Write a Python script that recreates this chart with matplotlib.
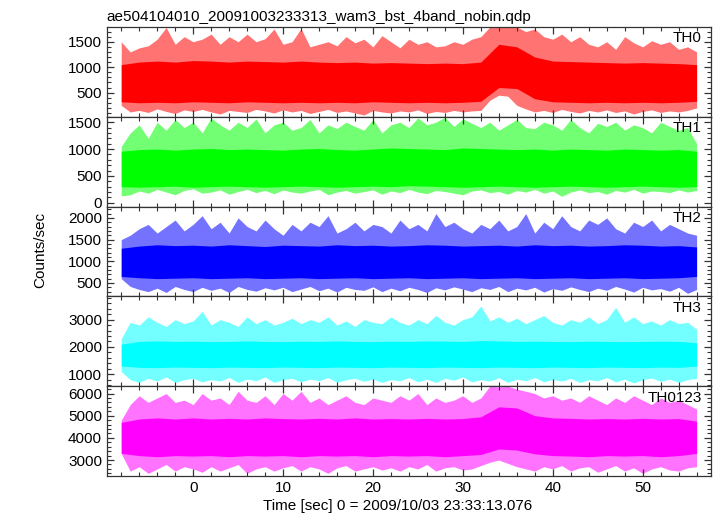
import numpy as np
import matplotlib
matplotlib.use("Agg")
import matplotlib.pyplot as plt
from matplotlib.ticker import MultipleLocator, FixedLocator

plt.rcParams["font.family"] = ["Liberation Sans", "DejaVu Sans"]
plt.rcParams["font.size"] = 11

# time grids (sec): spike envelope read every 1 s, dense core every 2 s
t_sec = np.arange(-8, 57, 1)
t_core = np.arange(-8, 57, 2)

# ---- TH0 ----
th0_hi = [1500, 1300, 1380, 1420, 1550, 1780, 1450, 1600, 1500, 1550,
          1650, 1450, 1600, 1500, 1650, 1500, 1560, 1750, 1450, 1500,
          1760, 1400, 1450, 1500, 1420, 1600, 1480, 1550, 1400, 1620,
          1500, 1380, 1550, 1450, 1500, 1400, 1420, 1500, 1450, 1550,
          1600, 1790, 1790, 1790, 1790, 1700, 1750, 1600, 1550, 1650,
          1500, 1600, 1450, 1400, 1500, 1350, 1600, 1480, 1400, 1520,
          1450, 1500, 1350, 1400, 1300]
th0_lo = [250, 120, 150, 110, 180, 130, 90, 160, 130, 170,
          120, 80, 150, 130, 110, 170, 140, 100, 160, 120,
          150, 90, 130, 170, 110, 140, 100, 60, 150, 120,
          100, 140, 120, 160, 90, 130, 110, 150, 120, 140,
          150, 350, 450, 430, 250, 180, 120, 150, 110, 170,
          130, 100, 150, 120, 160, 110, 140, 80, 130, 160,
          110, 140, 120, 150, 200]
th0_core_hi = [1050, 1100, 1120, 1100, 1130, 1120, 1100, 1120, 1110, 1100,
               1120, 1100, 1090, 1100, 1080, 1090, 1080, 1070, 1080, 1070,
               1100, 1450, 1400, 1200, 1120, 1110, 1100, 1090, 1080, 1090,
               1080, 1070, 1050]
th0_core_lo = [320, 300, 310, 300, 320, 310, 300, 320, 310, 300,
               310, 300, 310, 300, 320, 310, 300, 310, 300, 310,
               330, 600, 580, 380, 320, 310, 300, 310, 300, 310,
               300, 310, 330]

# ---- TH1 ----
th1_hi = [1050, 1300, 1450, 1200, 1500, 1350, 1550, 1400, 1500, 1300,
          1580, 1450, 1350, 1500, 1400, 1560, 1300, 1450, 1500, 1350,
          1400, 1550, 1300, 1450, 1380, 1500, 1420, 1350, 1550, 1300,
          1450, 1500, 1400, 1580, 1450, 1500, 1590, 1420, 1560, 1480,
          1400, 1500, 1350, 1450, 1550, 1400, 1380, 1500, 1450, 1350,
          1550, 1400, 1300, 1480, 1420, 1500, 1350, 1450, 1400, 1300,
          1500, 1420, 1350, 1400, 1100]
th1_lo = [130, 150, 220, 180, 250, 200, 150, 230, 260, 180,
          200, 240, 160, 210, 250, 190, 230, 170, 240, 200,
          180, 220, 250, 150, 200, 230, 180, 210, 240, 160,
          220, 190, 250, 200, 170, 230, 210, 180, 150, 220,
          240, 190, 210, 160, 230, 200, 250, 180, 220, 120,
          200, 240, 190, 210, 160, 230, 200, 250, 180, 220,
          210, 190, 240, 200, 230]
th1_core_hi = [960, 990, 1000, 980, 1000, 1010, 990, 1000, 990, 980,
               1000, 1010, 990, 980, 1000, 1020, 1010, 1000, 990, 1020,
               1010, 1000, 990, 1000, 980, 1000, 990, 980, 1000, 990,
               980, 990, 960]
th1_core_lo = [300, 290, 300, 310, 290, 300, 310, 300, 290, 300,
               310, 300, 290, 300, 310, 300, 320, 310, 300, 290,
               300, 310, 300, 290, 300, 310, 300, 290, 300, 310,
               300, 290, 300]

# ---- TH2 ----
th2_hi = [1500, 1600, 1750, 1850, 1650, 1800, 1950, 1700, 1850, 2050,
          1750, 1900, 1650, 2000, 1800, 1700, 1950, 1750, 1600, 1850,
          1700, 1900, 1800, 2050, 1650, 1750, 1900, 1700, 1850, 1800,
          1650, 1950, 1750, 1850, 1700, 2100, 1800, 1900, 1750, 1650,
          1850, 1750, 1950, 1700, 1800, 2100, 1650, 1900, 1750, 2050,
          1800, 1700, 1950, 1850, 2000, 1750, 1650, 1900, 1800, 1950,
          1700, 1850, 1750, 1650, 1600]
th2_lo = [600, 420, 350, 300, 380, 280, 420, 350, 300, 400,
          330, 380, 280, 420, 350, 310, 390, 340, 400, 300,
          360, 420, 320, 380, 290, 400, 350, 330, 410, 300,
          380, 320, 400, 350, 280, 390, 340, 410, 360, 300,
          390, 350, 420, 300, 380, 340, 400, 290, 370, 330,
          410, 350, 300, 380, 330, 420, 360, 290, 400, 340,
          370, 310, 400, 260, 350]
th2_core_hi = [1300, 1350, 1380, 1360, 1370, 1350, 1380, 1360, 1340, 1370,
               1360, 1350, 1380, 1360, 1370, 1350, 1360, 1380, 1370, 1350,
               1360, 1370, 1350, 1380, 1360, 1370, 1350, 1360, 1380, 1370,
               1350, 1360, 1330]
th2_core_lo = [650, 620, 600, 610, 620, 600, 610, 620, 600, 610,
               620, 600, 610, 620, 600, 610, 620, 600, 610, 620,
               600, 610, 620, 600, 610, 620, 600, 610, 620, 600,
               610, 620, 650]

# ---- TH3 ----
th3_hi = [2300, 2900, 2800, 3100, 2900, 2750, 3000, 2850, 2950, 3300,
          2800, 3000, 2900, 2750, 3100, 2850, 3000, 2800, 2900, 3050,
          2850, 3000, 2900, 3100, 2800, 2950, 2750, 3000, 2900, 2850,
          3100, 2900, 2800, 3000, 2850, 3150, 2900, 2800, 3000, 3100,
          3500, 2950, 3100, 2900, 3050, 2850, 3000, 3150, 2900, 2800,
          3000, 2900, 3100, 2850, 3000, 3450, 2900, 3100, 2850, 2950,
          2800, 3000, 2850, 2900, 2650]
th3_lo = [1100, 800, 700, 850, 750, 900, 700, 800, 850, 720,
          800, 750, 880, 700, 820, 760, 900, 700, 800, 850,
          720, 820, 760, 880, 700, 800, 850, 740, 820, 700,
          800, 760, 880, 720, 820, 700, 850, 780, 900, 720,
          800, 750, 870, 700, 820, 760, 880, 720, 810, 750,
          850, 700, 800, 760, 880, 720, 820, 680, 800, 860,
          740, 820, 700, 800, 850]
th3_core_hi = [2100, 2200, 2220, 2200, 2210, 2190, 2200, 2220, 2200, 2190,
               2210, 2200, 2220, 2200, 2190, 2210, 2200, 2220, 2210, 2200,
               2230, 2220, 2200, 2210, 2200, 2190, 2210, 2200, 2190, 2200,
               2210, 2200, 2150]
th3_core_lo = [1300, 1250, 1240, 1260, 1250, 1240, 1260, 1250, 1240, 1260,
               1250, 1240, 1260, 1250, 1240, 1260, 1250, 1240, 1260, 1250,
               1240, 1260, 1250, 1240, 1260, 1250, 1240, 1260, 1250, 1240,
               1260, 1250, 1300]

# ---- TH0123 ----
th0123_hi = [4800, 5500, 5900, 5600, 5800, 6000, 5600, 5700, 5500, 6000,
             5700, 5800, 5500, 6100, 5700, 5600, 5900, 5500, 6000, 5700,
             6100, 5600, 5800, 5500, 5700, 5900, 5600, 5500, 5800, 5700,
             5600, 5900, 5700, 6000, 5500, 5800, 5600, 5700, 5900, 5600,
             5800, 6330, 6300, 6330, 6200, 6100, 6000, 5800, 5900, 5700,
             5800, 5600, 5900, 5700, 5500, 5800, 5600, 5900, 5700, 5500,
             5800, 5600, 5700, 5500, 5300]
th0123_lo = [3300, 2500, 2700, 2400, 2600, 2800, 2500, 2700, 2600, 2450,
             2700, 2500, 2650, 2800, 2400, 2600, 2700, 2500, 2650, 2750,
             2500, 2700, 2600, 2400, 2650, 2750, 2500, 2600, 2700, 2550,
             2650, 2500, 2700, 2600, 2800, 2500, 2650, 2700, 2550, 2600,
             2750, 2900, 3000, 2850, 2700, 2600, 2500, 2700, 2600, 2750,
             2500, 2650, 2700, 2450, 2600, 2750, 2500, 2650, 2400, 2600,
             2700, 2550, 2500, 2650, 2700]
th0123_core_hi = [4700, 4850, 4900, 4850, 4900, 4850, 4880, 4850, 4900, 4870,
                  4850, 4880, 4850, 4900, 4850, 4870, 4850, 4880, 4850, 4870,
                  4950, 5400, 5350, 5000, 4900, 4880, 4850, 4870, 4850, 4880,
                  4850, 4870, 4750]
th0123_core_lo = [3300, 3200, 3150, 3200, 3180, 3200, 3150, 3200, 3180, 3200,
                  3150, 3200, 3180, 3200, 3150, 3200, 3180, 3200, 3150, 3200,
                  3250, 3500, 3450, 3280, 3200, 3180, 3150, 3200, 3180, 3200,
                  3150, 3200, 3300]

names = ["TH0", "TH1", "TH2", "TH3", "TH0123"]
series = [
    (th0_hi, th0_lo, th0_core_hi, th0_core_lo),
    (th1_hi, th1_lo, th1_core_hi, th1_core_lo),
    (th2_hi, th2_lo, th2_core_hi, th2_core_lo),
    (th3_hi, th3_lo, th3_core_hi, th3_core_lo),
    (th0123_hi, th0123_lo, th0123_core_hi, th0123_core_lo),
]

# styling per panel
colors = ["#ff0000", "#00ff00", "#0000ff", "#00ffff", "#ff00ff"]
ylims = [(25, 1790), (-70, 1600), (190, 2260), (560, 3850), (2280, 6330)]
yticks = [[500, 1000, 1500], [0, 500, 1000, 1500], [500, 1000, 1500, 2000],
          [1000, 2000, 3000], [3000, 4000, 5000, 6000]]
yminor = [100, 100, 100, 200, 200]

fig = plt.figure(figsize=(7.17, 5.16), dpi=100)
axes = fig.subplots(5, 1, sharex=True)
fig.subplots_adjust(left=0.149, right=0.9916, top=0.9477, bottom=0.0775, hspace=0)

for i, ax in enumerate(axes):
    hi, lo, chi, clo = series[i]
    c = colors[i]
    ax.fill_between(t_sec, lo, hi, color=c, alpha=0.55, lw=0)
    ax.fill_between(t_core, clo, chi, color=c, lw=0)
    ax.set_ylim(*ylims[i])
    ax.yaxis.set_major_locator(FixedLocator(yticks[i]))
    ax.yaxis.set_minor_locator(MultipleLocator(yminor[i]))
    ax.xaxis.set_major_locator(MultipleLocator(10))
    ax.xaxis.set_minor_locator(MultipleLocator(2))
    ax.tick_params(which="both", direction="in", top=True, right=True,
                   labelsize=11, color="#333333")
    ax.tick_params(which="major", length=5, width=0.9)
    ax.tick_params(which="minor", length=3, width=0.8)
    for sp in ax.spines.values():
        sp.set_linewidth(0.9)
        sp.set_color("#333333")
    ax.text(0.985, 0.95, names[i], transform=ax.transAxes,
            ha="right", va="top", fontsize=11)

axes[-1].set_xlim(-9.6, 57.6)
axes[0].set_title("ae504104010_20091003233313_wam3_bst_4band_nobin.qdp",
                  loc="left", fontsize=11, pad=4)
fig.text(0.056, 0.515, "Counts/sec", rotation=90, ha="center", va="center",
         fontsize=11)
fig.text(0.555, 0.019, "Time [sec] 0 = 2009/10/03 23:33:13.076",
         ha="center", va="center", fontsize=11)

fig.savefig("out.png", dpi=100)
